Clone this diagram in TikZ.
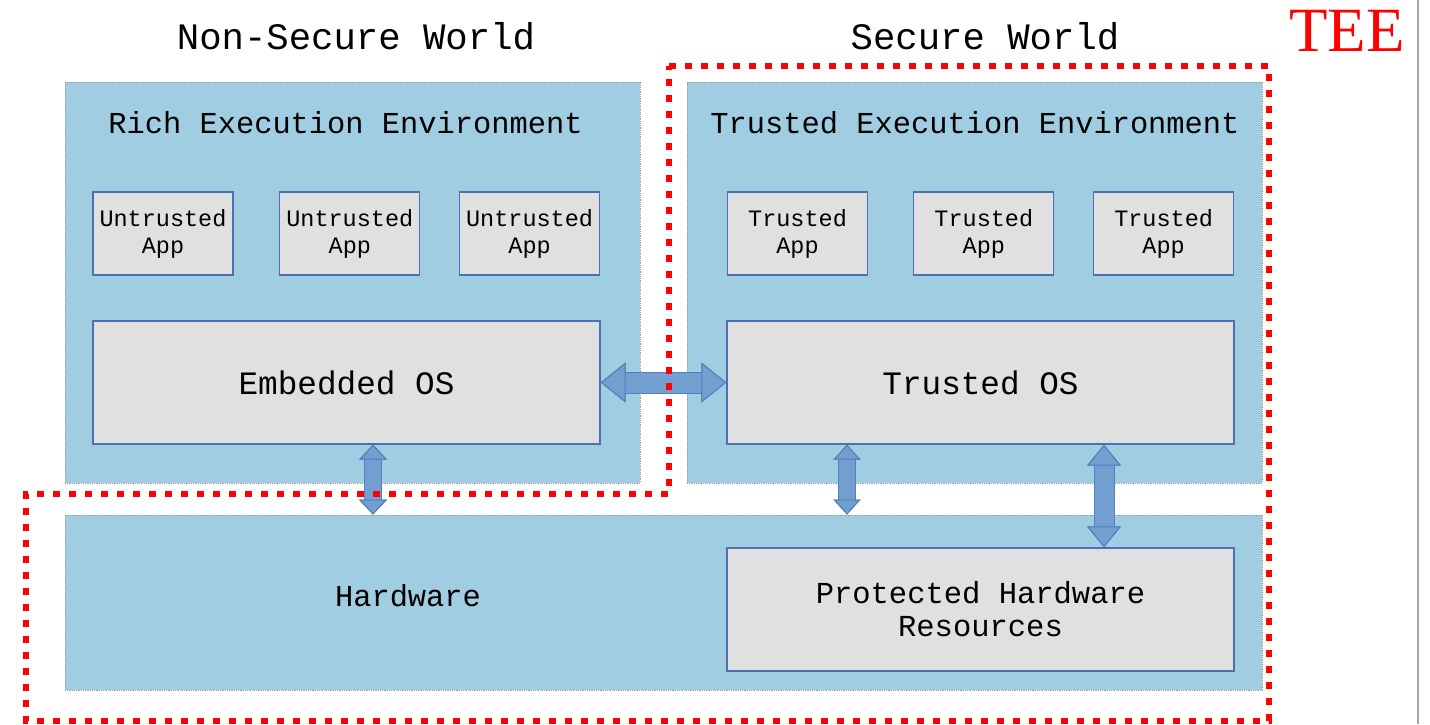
\documentclass[tikz,border=0pt]{standalone}
\usepackage{fontspec}
\setmainfont{Liberation Serif}
\setmonofont{Liberation Mono}
\usetikzlibrary{arrows.meta,positioning}

\definecolor{envblue}{RGB}{160,205,226}
\definecolor{compgray}{RGB}{224,224,224}
\definecolor{compedge}{RGB}{74,114,178}
\definecolor{arrowfill}{RGB}{114,159,207}
\definecolor{arrowedge}{RGB}{84,126,188}
\definecolor{teered}{RGB}{255,0,0}

\begin{document}
\begin{tikzpicture}[x=1pt,y=-1pt,
  worldtitle/.style={font=\ttfamily\fontsize{37.3}{44}\selectfont,inner sep=0pt},
  envtitle/.style={font=\ttfamily\fontsize{30.4}{36}\selectfont,inner sep=0pt},
  envbox/.style={draw=gray!75,densely dotted,line width=0.8pt,fill=envblue},
  compbox/.style={draw=compedge,line width=1.3pt,fill=compgray,align=center,inner sep=0pt},
  appbox/.style={compbox,minimum width=140pt,minimum height=83pt,font=\ttfamily\fontsize{23.5}{27}\selectfont},
  osbox/.style={compbox,minimum width=507pt,minimum height=123pt,font=\ttfamily\fontsize{32.7}{38}\selectfont},
  blockarrow/.style n args={3}{draw=arrowfill,line width=#1,
    {Triangle[width=#2,length=#3,fill=arrowfill,color=arrowedge,line width=1pt]}-{Triangle[width=#2,length=#3,fill=arrowfill,color=arrowedge,line width=1pt]},
    preaction={draw=arrowedge,line width=#1+2pt}},
  teeline/.style={draw=teered,line width=6pt,dash pattern=on 7pt off 9pt}]
\useasboundingbox (0,0) rectangle (1430,724);

% the two worlds
\node[worldtitle] (nsw) at (356,36) {Non-Secure World};
\node[worldtitle] (sw) at (985,36) {Secure World};
\node[font=\rmfamily\fontsize{63}{70}\selectfont,text=teered,inner sep=0pt] (tee) at (1347,31) {TEE};

% execution environments and hardware
\node[envbox,minimum width=575pt,minimum height=401pt] (ree) at (352.5,282.5) {};
\node[envbox,minimum width=575pt,minimum height=401pt] (tenv) at (974.5,282.5) {};
\node[envbox,minimum width=1197pt,minimum height=175pt] (hw) at (663.5,602.5) {};
\node[envtitle] (reetitle) at (345.5,123) {Rich Execution Environment};
\node[envtitle] (teetitle) at (975,123) {Trusted Execution Environment};
\node[envtitle] (hwtitle) at (408,596) {Hardware};

% applications
\node[appbox] (ua1) at (163,233.5) {Untrusted\\App};
\node[appbox,right=45.5pt of ua1] (ua2) {Untrusted\\App};
\node[appbox,right=38.5pt of ua2] (ua3) {Untrusted\\App};
\node[appbox] (ta1) at (797.5,233.5) {Trusted\\App};
\node[appbox,right=45pt of ta1] (ta2) {Trusted\\App};
\node[appbox,right=38.5pt of ta2] (ta3) {Trusted\\App};

% operating systems and protected resources
\node[osbox] (eos) at (346.5,382.5) {Embedded OS};
\node[osbox] (tos) at (980.5,382.5) {Trusted OS};
\node[osbox,font=\ttfamily\fontsize{30.5}{33}\selectfont] (phr) at (980.5,609.5) {Protected Hardware\\Resources};

% links
\draw[blockarrow={20pt}{40pt}{25pt}] (eos.east) -- (tos.west);
\draw[blockarrow={16.5pt}{28pt}{15pt}] ([xshift=26.5pt]eos.south) -- ([xshift=26.5pt]eos.south |- hw.north);
\draw[blockarrow={16pt}{27pt}{15pt}] ([xshift=-133.5pt]tos.south) -- ([xshift=-133.5pt]tos.south |- hw.north);
\draw[blockarrow={19pt}{34pt}{21pt}] ([xshift=123.5pt]tos.south) -- ([xshift=123.5pt]phr.north);

% trusted boundary
\draw[teeline] (669,66) -- (1269,66) -- (1269,721) -- (26,721) -- (26,494) -- (669,494) -- cycle;
\draw[gray!70,line width=1.5pt] (1418,0) -- (1418,724);
\end{tikzpicture}
\end{document}
